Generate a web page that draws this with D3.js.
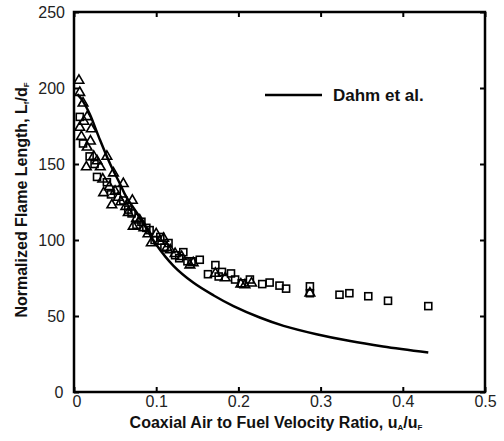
<!DOCTYPE html>
<html>
<head>
<meta charset="utf-8">
<script src="https://cdn.jsdelivr.net/npm/d3@7"></script>
<style>
  body { margin: 0; background: #fff; }
  svg { font-family: "Liberation Sans", Arial, sans-serif; }
</style>
</head>
<body>
<div id="chart"></div>
<script>
// Dahm et al. correlation curve
var dahmX = [0.004, 0.010, 0.019, 0.030, 0.044, 0.055, 0.064, 0.080, 0.100, 0.121, 0.145, 0.170, 0.194, 0.226, 0.255, 0.295, 0.336, 0.376, 0.431];
var dahmY = [196, 192, 183, 168, 150, 138, 128, 115, 97, 83, 72, 63.5, 56.5, 49, 43.5, 38, 33.5, 30, 26];

// open squares
var sqX = [0.007, 0.011, 0.019, 0.028, 0.040, 0.052, 0.060, 0.070, 0.082, 0.092, 0.105, 0.115, 0.123, 0.133, 0.143, 0.153, 0.163, 0.172, 0.180, 0.191, 0.204, 0.214, 0.229, 0.238, 0.250, 0.258, 0.287, 0.287, 0.323, 0.335, 0.358, 0.382, 0.431,
           0.025, 0.045, 0.066, 0.076, 0.088, 0.098, 0.110, 0.128, 0.138, 0.176, 0.196];
var sqY = [181, 163.5, 155, 141.5, 138, 133, 126, 117.5, 112, 106.5, 102, 98, 90, 92, 86, 87, 77.5, 83.5, 79, 78, 71.5, 74, 71, 72, 70, 68, 69.5, 65, 64, 65, 63, 60, 56.5,
           150, 130, 120, 110, 108, 100, 95, 88, 86, 76, 74];

// open triangles
var triX = [0.006, 0.007, 0.011, 0.016, 0.021, 0.007, 0.009, 0.016, 0.015, 0.024, 0.032, 0.040, 0.048, 0.036, 0.046, 0.060, 0.054, 0.071, 0.063, 0.072, 0.080, 0.094, 0.100, 0.109, 0.117, 0.123, 0.131, 0.141, 0.172, 0.184, 0.208, 0.216, 0.287,
            0.012, 0.020, 0.028, 0.035, 0.043, 0.050, 0.057, 0.066, 0.076, 0.085, 0.090, 0.104, 0.113, 0.145, 0.203];
var triY = [205, 197, 190, 181, 173, 174, 168, 161, 148, 155, 148, 155, 144, 131, 123, 137, 128, 126, 122, 109, 113, 98, 104, 101, 93.5, 91, 89, 83.5, 78, 75, 70.5, 71.6, 65,
            178, 165, 152, 140, 135, 132, 125, 118, 114, 108, 104, 99, 95, 85, 71];

var yTicks = [0, 50, 100, 150, 200, 250];
var xTicks = [0, 0.1, 0.2, 0.3, 0.4, 0.5];

var width = 504, height = 441;
var margin = {left: 74, right: 19, top: 12, bottom: 49};

var svg = d3.select('#chart').append('svg')
    .attr('width', width)
    .attr('height', height);

var x = d3.scaleLinear().domain([0, 0.5]).range([margin.left, width - margin.right]);
var y = d3.scaleLinear().domain([0, 250]).range([height - margin.bottom, margin.top]);

var fmtX = function (d) { return d === 0 ? '0' : d3.format('.1f')(d); };

// axes, ticks pointing inward
var gBottom = svg.append('g')
    .attr('transform', 'translate(0,' + y(0) + ')')
    .call(d3.axisBottom(x).tickValues(xTicks).tickSize(-5).tickPadding(4).tickFormat(fmtX));
var gTop = svg.append('g')
    .attr('transform', 'translate(0,' + y(250) + ')')
    .call(d3.axisTop(x).tickValues(xTicks).tickSize(-5).tickFormat(''));
var gLeft = svg.append('g')
    .attr('transform', 'translate(' + x(0) + ',0)')
    .call(d3.axisLeft(y).tickValues(yTicks).tickSize(-5).tickPadding(9));
var gRight = svg.append('g')
    .attr('transform', 'translate(' + x(0.5) + ',0)')
    .call(d3.axisRight(y).tickValues(yTicks).tickSize(-5).tickFormat(''));

[gBottom, gTop, gLeft, gRight].forEach(function (g) {
    g.select('.domain').remove();
    g.selectAll('.tick line').attr('stroke', '#000').attr('stroke-width', 2);
    g.selectAll('.tick text').attr('fill', '#222').style('font-size', '16px');
});

// y "0" label sits a bit left, x "0" label slightly right
gLeft.selectAll('.tick text').filter(function (d) { return d === 0; }).attr('dx', '-0.1em');
gBottom.selectAll('.tick text').filter(function (d) { return d === 0; }).attr('dx', '0.15em');

// frame
svg.append('rect')
    .attr('x', x(0))
    .attr('y', y(250))
    .attr('width', x(0.5) - x(0))
    .attr('height', y(0) - y(250))
    .attr('fill', 'none')
    .attr('stroke', '#000')
    .attr('stroke-width', 2.5);

// squares
var s = 7;
svg.append('g').selectAll('rect.sq')
    .data(d3.zip(sqX, sqY))
    .enter()
    .append('rect')
    .attr('class', 'sq')
    .attr('x', function (d) { return x(d[0]) - s / 2; })
    .attr('y', function (d) { return y(d[1]) - s / 2; })
    .attr('width', s)
    .attr('height', s)
    .attr('fill', 'none')
    .attr('stroke', '#000')
    .attr('stroke-width', 1.6);

// triangles
var tri = d3.symbol().type(d3.symbolTriangle).size(40);
svg.append('g').selectAll('path.tri')
    .data(d3.zip(triX, triY))
    .enter()
    .append('path')
    .attr('class', 'tri')
    .attr('transform', function (d) { return 'translate(' + x(d[0]) + ',' + y(d[1]) + ')'; })
    .attr('d', tri)
    .attr('fill', 'none')
    .attr('stroke', '#000')
    .attr('stroke-width', 1.6);

// Dahm et al. curve
var line = d3.line()
    .x(function (d) { return x(d[0]); })
    .y(function (d) { return y(d[1]); })
    .curve(d3.curveCatmullRom);

svg.append('path')
    .datum(d3.zip(dahmX, dahmY))
    .attr('d', line)
    .attr('fill', 'none')
    .attr('stroke', '#000')
    .attr('stroke-width', 2.5);

// legend
svg.append('line')
    .attr('x1', 265).attr('x2', 322)
    .attr('y1', 95).attr('y2', 95)
    .attr('stroke', '#000')
    .attr('stroke-width', 2.5);
svg.append('text')
    .attr('x', 333)
    .attr('y', 101)
    .style('font-size', '17px')
    .style('font-weight', 'bold')
    .attr('fill', '#111')
    .text('Dahm et al.');

// axis titles
var xt = svg.append('text')
    .attr('x', 276)
    .attr('y', 428)
    .attr('text-anchor', 'middle')
    .style('font-size', '16px')
    .style('font-weight', 'bold')
    .attr('fill', '#111');
xt.append('tspan').text('Coaxial Air to Fuel Velocity Ratio, u');
xt.append('tspan').attr('baseline-shift', '-25%').style('font-size', '8px').text('A');
xt.append('tspan').text('/u');
xt.append('tspan').attr('baseline-shift', '-25%').style('font-size', '8px').text('F');

var yt = svg.append('text')
    .attr('transform', 'translate(27,' + 200 + ') rotate(-90)')
    .attr('text-anchor', 'middle')
    .style('font-size', '16px')
    .style('font-weight', 'bold')
    .attr('fill', '#111');
yt.append('tspan').text('Normalized Flame Length, L');
yt.append('tspan').attr('baseline-shift', '-25%').style('font-size', '8px').text('f');
yt.append('tspan').text('/d');
yt.append('tspan').attr('baseline-shift', '-25%').style('font-size', '8px').text('F');
</script>
</body>
</html>
